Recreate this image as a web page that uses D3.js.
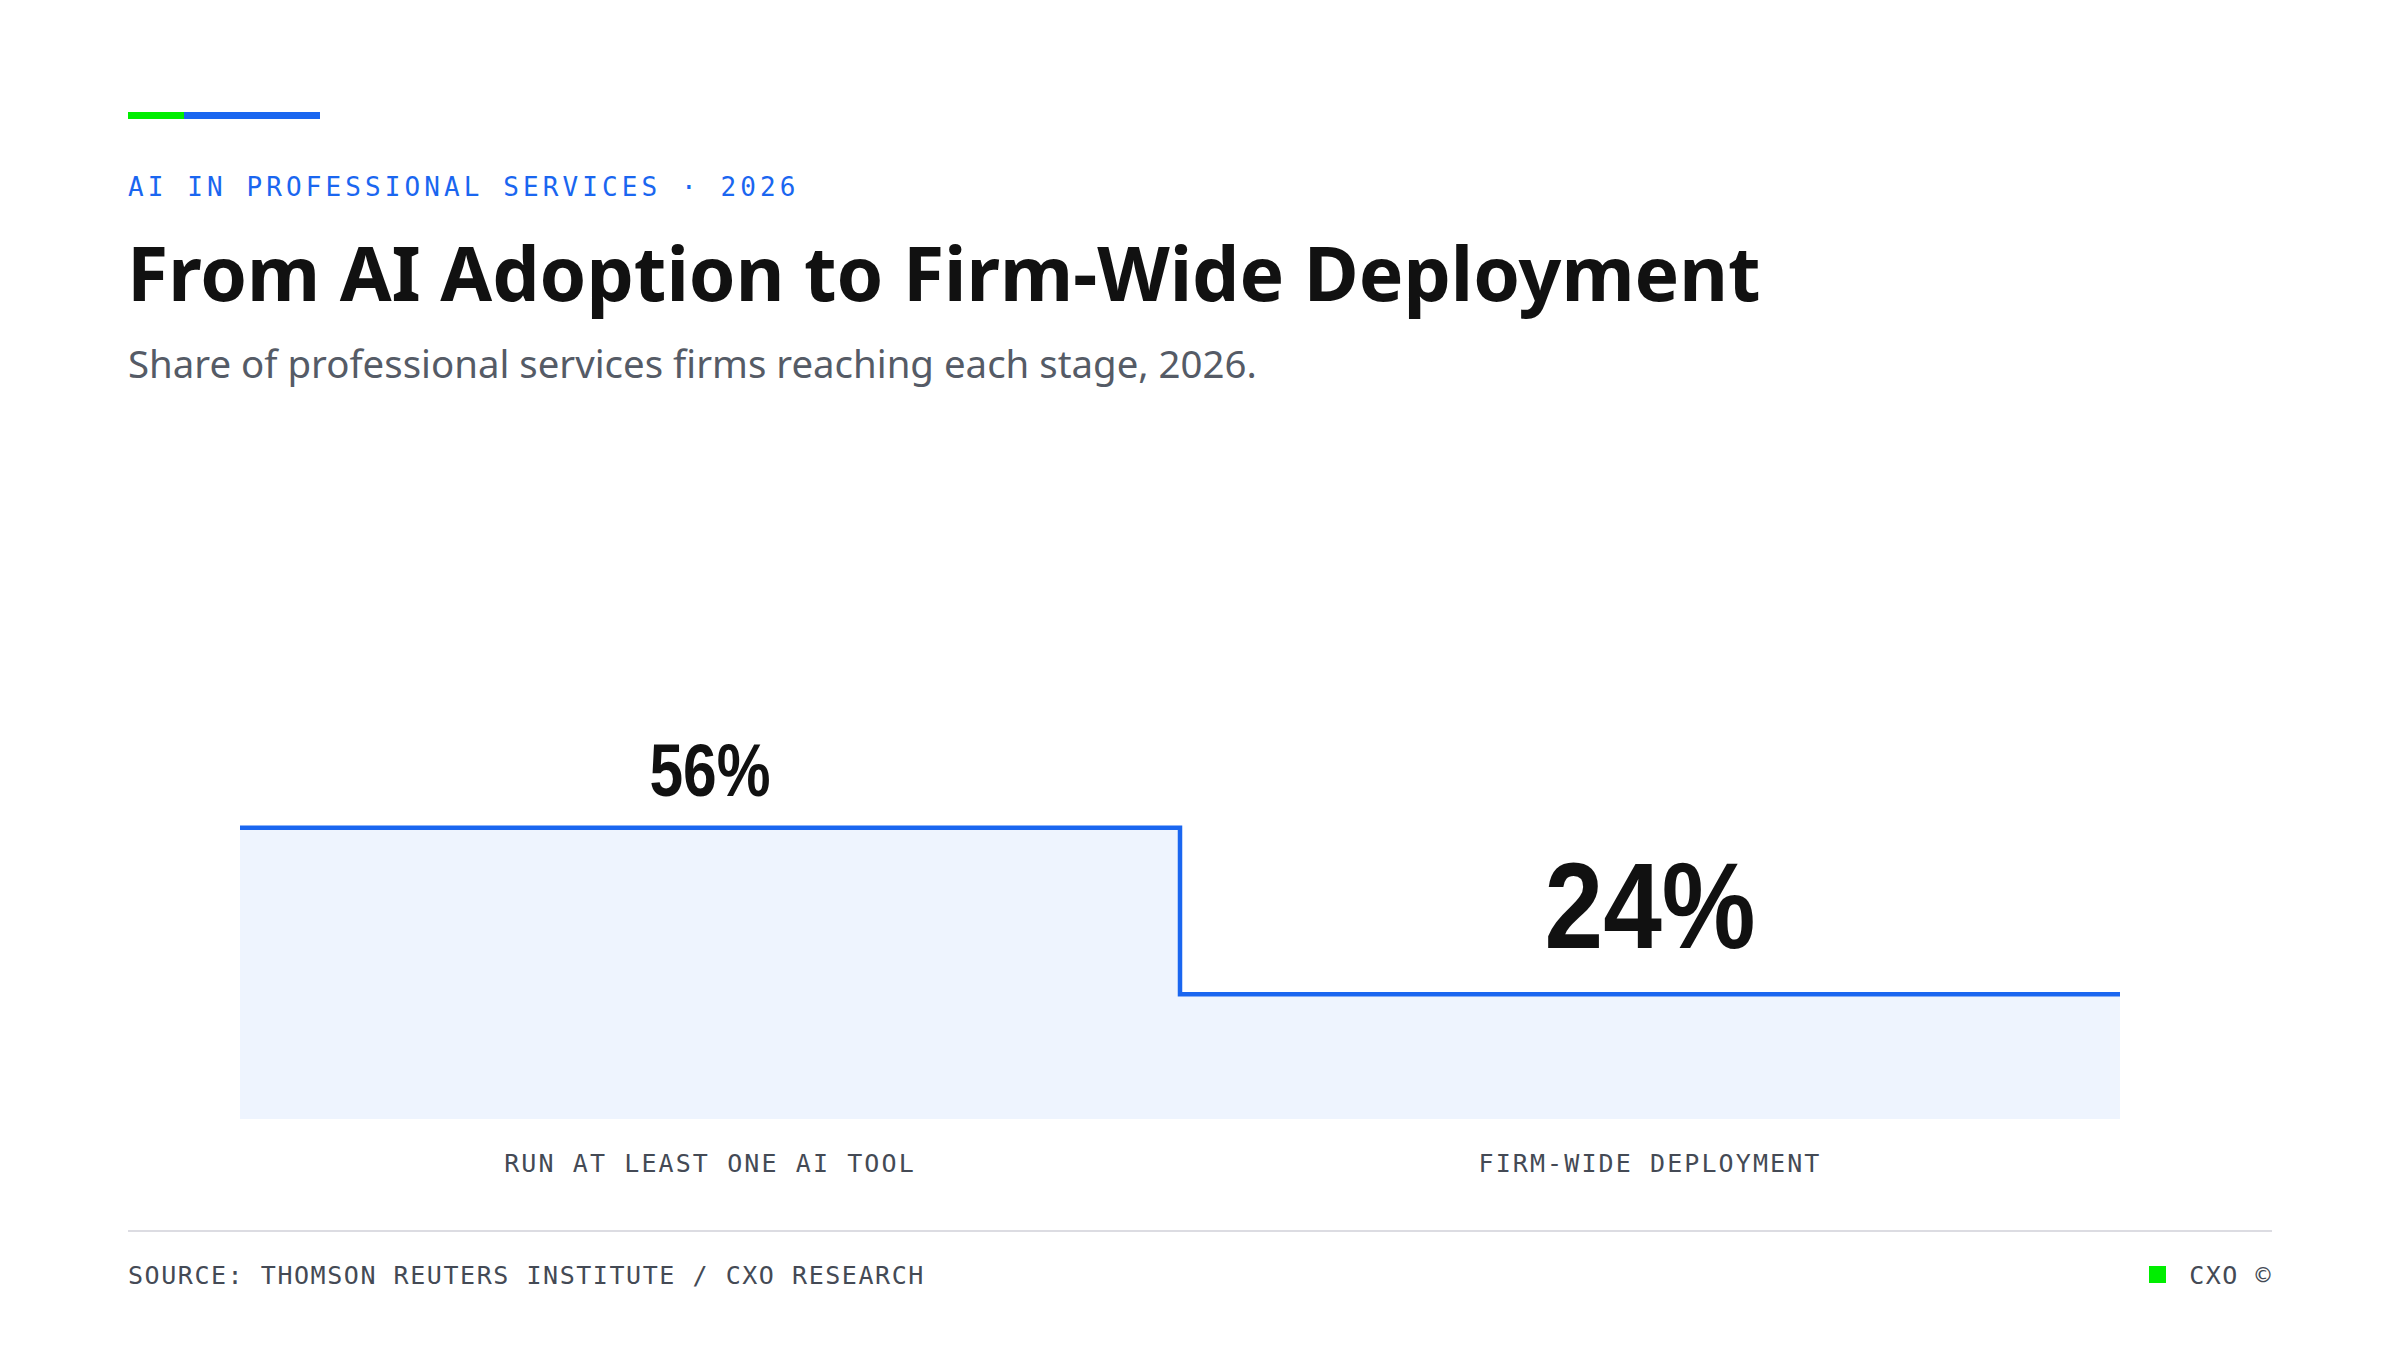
<!DOCTYPE html>
<html>
<head>
<meta charset="utf-8">
<script src="https://cdn.jsdelivr.net/npm/d3@7"></script>
<style>
  body { margin: 0; background: #fff; }
  svg { display: block; }
</style>
</head>
<body>
<div id="chart"></div>
<script>
const stages = ["RUN AT LEAST ONE AI TOOL", "FIRM-WIDE DEPLOYMENT"]
const shares = [56, 24]
const labelSizes = [74, 122]
const labelWidths = [121, 211]

const W = 2400, H = 1350
const margin = {top: 599, right: 280, bottom: 231, left: 240}

const svg = d3.select("#chart").append("svg")
    .attr("width", W).attr("height", H)
    .attr("viewBox", [0, 0, W, H])

const mono = "'DejaVu Sans Mono', 'Liberation Mono', monospace"
const sans = "'Noto Sans', 'Open Sans', sans-serif"

// accent bar
svg.append("rect").attr("x", 128).attr("y", 112).attr("width", 56).attr("height", 7).attr("fill", "#00ee00")
svg.append("rect").attr("x", 184).attr("y", 112).attr("width", 136).attr("height", 7).attr("fill", "#1a66f0")

svg.append("text").attr("x", 128).attr("y", 196)
    .attr("font-family", mono).attr("font-size", 26).attr("letter-spacing", 4.1)
    .attr("fill", "#1a66f0").text("AI IN PROFESSIONAL SERVICES · 2026")

svg.append("text").attr("x", 127).attr("y", 301)
    .attr("font-family", sans).attr("font-weight", 700).attr("font-size", 75)
    .attr("fill", "#111").text("From AI Adoption to Firm-Wide Deployment")

svg.append("text").attr("x", 128).attr("y", 378)
    .attr("font-family", sans).attr("font-size", 38.4)
    .attr("fill", "#555b66").text("Share of professional services firms reaching each stage, 2026.")

const x = d3.scaleBand().domain(stages).range([margin.left, W - margin.right]).padding(0)
const y = d3.scaleLinear().domain([0, 100]).range([H - margin.bottom, margin.top])

const pts = []
stages.forEach((s, i) => {
  pts.push([x(s), shares[i]])
  pts.push([x(s) + x.bandwidth(), shares[i]])
})

svg.append("path").datum(pts)
    .attr("fill", "#eef4fe")
    .attr("d", d3.area().x(d => d[0]).y0(y(0)).y1(d => y(d[1])))

svg.append("path").datum(pts)
    .attr("fill", "none").attr("stroke", "#1a66f0").attr("stroke-width", 4.5)
    .attr("d", d3.line().x(d => d[0]).y(d => y(d[1])))

svg.selectAll(".val").data(stages).join("text")
    .attr("x", (d, i) => x(d) + x.bandwidth() / 2 - labelWidths[i] / 2)
    .attr("y", (d, i) => y(shares[i]) - (i === 0 ? 32 : 46))
    .attr("font-family", "'Liberation Sans', Arial, sans-serif").attr("font-weight", 700)
    .attr("font-size", (d, i) => labelSizes[i])
    .attr("textLength", (d, i) => labelWidths[i])
    .attr("lengthAdjust", "spacingAndGlyphs")
    .attr("fill", "#111")
    .text((d, i) => shares[i] + "%")

svg.selectAll(".cat").data(stages).join("text")
    .attr("x", d => x(d) + x.bandwidth() / 2)
    .attr("y", 1172)
    .attr("text-anchor", "middle")
    .attr("font-family", mono).attr("font-size", 25).attr("letter-spacing", 2.1)
    .attr("fill", "#444a55")
    .text(d => d)

svg.append("line").attr("x1", 128).attr("x2", 2272).attr("y1", 1231).attr("y2", 1231)
    .attr("stroke", "#dcdce2").attr("stroke-width", 2)

svg.append("text").attr("x", 128).attr("y", 1284)
    .attr("font-family", mono).attr("font-size", 25).attr("letter-spacing", 1.55)
    .attr("fill", "#444a55").text("SOURCE: THOMSON REUTERS INSTITUTE / CXO RESEARCH")

svg.append("rect").attr("x", 2149).attr("y", 1266).attr("width", 17).attr("height", 17).attr("fill", "#00ee00")
svg.append("text").attr("x", 2272).attr("y", 1284).attr("text-anchor", "end")
    .attr("font-family", mono).attr("font-size", 25).attr("letter-spacing", 1.5)
    .attr("fill", "#444a55").text("CXO ©")
</script>
</body>
</html>
